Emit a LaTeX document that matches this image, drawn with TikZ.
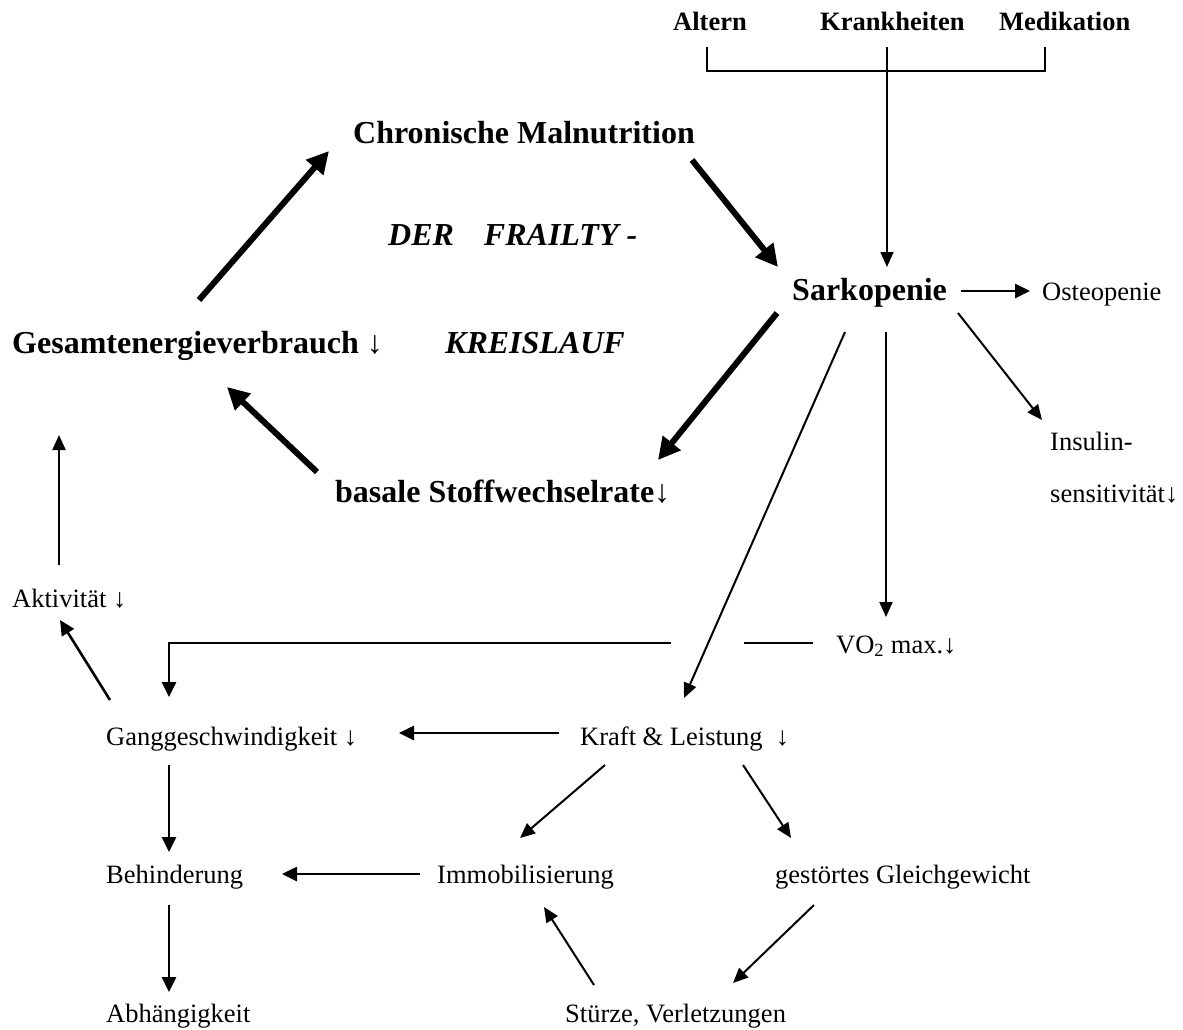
\documentclass[tikz,border=0pt]{standalone}
\usepackage{fontspec}
\setmainfont{Liberation Serif}
\usetikzlibrary{arrows.meta,calc}
\begin{document}
\begin{tikzpicture}[x=1pt,y=-1pt,
  lbl/.style={anchor=base west,inner sep=0pt,font=\fontsize{26.5}{30}\selectfont},
  toplbl/.style={anchor=base west,inner sep=0pt,font=\fontsize{26.5}{30}\selectfont\bfseries},
  biglbl/.style={anchor=base west,inner sep=0pt,font=\fontsize{32}{36}\selectfont\bfseries},
  cyclbl/.style={anchor=base west,inner sep=0pt,font=\fontsize{32}{36}\selectfont\bfseries\itshape},
  thick arrow/.style={line width=6pt,-{Triangle[length=22pt,width=22pt]}},
  thin arrow/.style={line width=2pt,-{Triangle[length=15pt,width=13pt]}},
  mid arrow/.style={line width=2.6pt,-{Triangle[length=15pt,width=14pt]}},
  plain line/.style={line width=1.6pt}]
\useasboundingbox (0,0) rectangle (1183,1030);
% nodes
\node[toplbl] (altern) at (673,31) {Altern};
\node[toplbl] (krank) at (820,31) {Krankheiten};
\node[toplbl] (medik) at (999,31) {Medikation};
\node[biglbl] (chron) at (353,143) {Chronische Malnutrition};
\node[cyclbl] (derf) at (388,245) {DER\hspace{22pt} FRAILTY -};
\node[cyclbl] (kreis) at (445,353) {KREISLAUF};
\node[biglbl] (gesamt) at (12,353) {Gesamtenergieverbrauch ↓};
\node[biglbl] (sark) at (792,300) {Sarkopenie};
\node[lbl] (osteo) at (1042,300) {Osteopenie};
\node[biglbl] (basale) at (335,502) {basale Stoffwechselrate↓};
\node[lbl] (insulin) at (1050,450) {Insulin-};
\node[lbl] (sens) at (1050,502) {sensitivität↓};
\node[lbl] (aktiv) at (12,607) {Aktivität ↓};
\node[lbl] (vo2) at (836,653) {VO\textsubscript{2} max.↓};
\node[lbl] (gang) at (106,745) {Ganggeschwindigkeit ↓};
\node[lbl] (kraft) at (580,745) {Kraft \& Leistung \ ↓};
\node[lbl] (behind) at (106,883) {Behinderung};
\node[lbl] (immob) at (437,883) {Immobilisierung};
\node[lbl] (gleich) at (775,883) {gestörtes Gleichgewicht};
\node[lbl] (abh) at (106,1022) {Abhängigkeit};
\node[lbl] (stuerze) at (565,1022) {Stürze, Verletzungen};
% bracket of causes
\draw[plain line] ($(altern.base west)+(34,16)$) |- ($(medik.base west)+(46,40)$) -- ($(medik.base west)+(46,16)$);
\draw[plain line,-{Triangle[length=15pt,width=13pt]}] ($(krank.base west)+(67,16)$) -- ($(sark.base west)+(95,-33)$);
% frailty cycle
\draw[thick arrow] ($(gesamt.base west)+(187,-53)$) -- ($(chron.base west)+(-24,8)$);
\draw[thick arrow] ($(chron.base west)+(339,17)$) -- ($(sark.base west)+(-14,-33)$);
\draw[thick arrow] ($(sark.base west)+(-15,13)$) -- ($(basale.base west)+(323,-42)$);
\draw[thick arrow] ($(basale.base west)+(-18,-30)$) -- ($(gesamt.base west)+(215,34)$);
% sarkopenie consequences
\draw[mid arrow] ($(sark.base west)+(169,-9)$) -- ($(osteo.base west)+(-12,-9)$);
\draw[thin arrow] ($(sark.base west)+(166,13)$) -- ($(insulin.base west)+(-8,-30)$);
\draw[thin arrow] ($(sark.base west)+(94,32)$) -- ($(vo2.base west)+(50,-36)$);
\draw[thin arrow] ($(sark.base west)+(53,32)$) -- ($(kraft.base west)+(104,-47)$);
% VO2 -> gang
\coordinate (gapR) at ($(vo2.base west)+(-92,-10)$);
\coordinate (gapL) at ($(vo2.base west)+(-165,-10)$);
\draw[line width=2pt] ($(vo2.base west)+(-23,-10)$) -- (gapR);
\draw[mid arrow] (gapL) -- ($(gang.base west)+(63,-102)$) -- ($(gang.base west)+(63,-48)$);
% lower network
\draw[mid arrow] ($(kraft.base west)+(-21,-12)$) -- ($(gang.base west)+(293,-12)$);
\draw[mid arrow] ($(gang.base west)+(4,-45)$) -- ($(aktiv.base west)+(48,13)$);
\draw[thin arrow] ($(aktiv.base west)+(47,-42)$) -- ($(gesamt.base west)+(47,82)$);
\draw[mid arrow] ($(gang.base west)+(63,20)$) -- ($(behind.base west)+(63,-31)$);
\draw[mid arrow] ($(behind.base west)+(63,22)$) -- ($(abh.base west)+(63,-30)$);
\draw[mid arrow] ($(immob.base west)+(-17,-9)$) -- ($(behind.base west)+(176,-9)$);
\draw[thin arrow] ($(kraft.base west)+(25,20)$) -- ($(immob.base west)+(83,-45)$);
\draw[thin arrow] ($(kraft.base west)+(163,20)$) -- ($(gleich.base west)+(16,-45)$);
\draw[thin arrow] ($(gleich.base west)+(39,22)$) -- ($(stuerze.base west)+(168,-39)$);
\draw[thin arrow] ($(stuerze.base west)+(29,-37)$) -- ($(immob.base west)+(107,24)$);
\end{tikzpicture}
\end{document}
